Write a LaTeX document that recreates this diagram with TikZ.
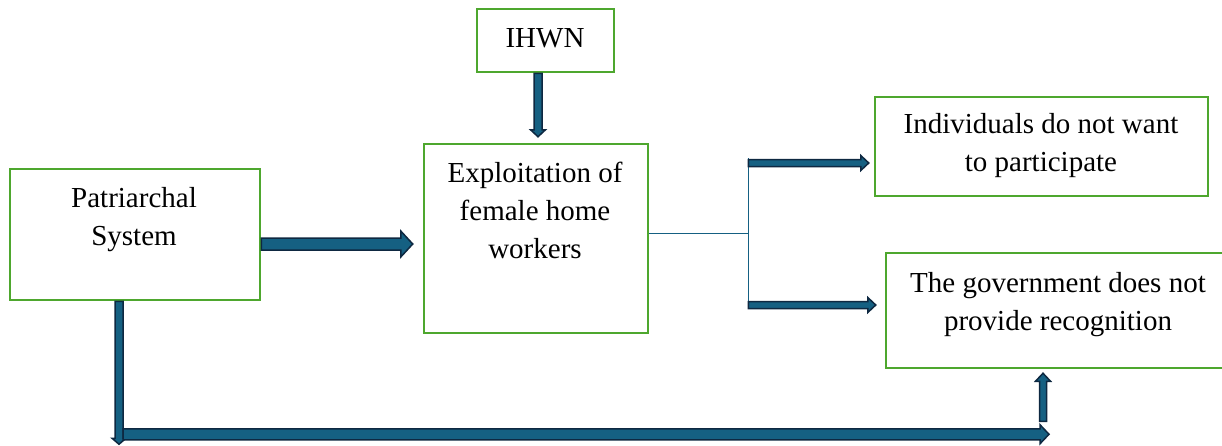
\documentclass[tikz,border=0pt]{standalone}
\usepackage{fontspec}
\setmainfont{Liberation Serif}
\usetikzlibrary{calc}
\definecolor{boxgreen}{HTML}{4EA72E}
\definecolor{arrowfill}{HTML}{156082}
\definecolor{arrowline}{HTML}{0E2841}

% block arrow: start, tip, shaft half width, head half width, head length
\newcommand{\blockarrow}[5]{%
  \coordinate (hb) at ($(#2)!#5!(#1)$);
  \filldraw[barrow] ($(#1)!#3!90:(#2)$) -- ($(hb)!#3!90:(#2)$) -- ($(hb)!#4!90:(#2)$) -- (#2)
    -- ($(hb)!#4!-90:(#2)$) -- ($(hb)!#3!-90:(#2)$) -- ($(#1)!#3!-90:(#2)$) -- cycle;
}

\begin{document}
\begin{tikzpicture}[x=1pt,y=-1pt,
    box/.style={draw=boxgreen, line width=2.5pt, inner sep=0pt},
    txt/.style={font=\fontsize{29}{38}\selectfont, align=center, inner sep=0pt, anchor=base},
    barrow/.style={fill=arrowfill, draw=arrowline, line width=1.5pt, line join=miter}]
    \useasboundingbox (0,0) rectangle (1222,445);

    % boxes
    \node[box, minimum width=137, minimum height=63] (ihwnBox) at (545.5,40.5) {};
    \node[box, minimum width=224, minimum height=189] (expBox) at (536,238.5) {};
    \node[box, minimum width=250, minimum height=131] (patBox) at (135,234.5) {};
    \node[box, minimum width=333, minimum height=99] (indBox) at (1041.5,146.5) {};
    \node[box, minimum width=344, minimum height=115] (govBox) at (1058,310.5) {};

    % texts (placed at the baseline of their last line)
    \node[txt] (ihwn) at (545,47) {IHWN};
    \node[txt] (exp) at (535,258) {Exploitation of\\female home\\workers};
    \node[txt] (pat) at (134,245) {Patriarchal\\System};
    \node[txt] (ind) at (1041,171) {Individuals do not want\\to participate};
    \node[txt] (gov) at (1058,330) {The government does not\\provide recognition};

    % patriarchal system -> exploitation
    \coordinate (pe) at ([yshift=-9.5pt]patBox.east);
    \coordinate (ew) at ([xshift=-10pt,yshift=-5.5pt]expBox.west);
    \blockarrow{pe}{ew}{6pt}{13pt}{12pt}

    % IHWN -> exploitation
    \coordinate (is) at ([xshift=-7.5pt]ihwnBox.south);
    \coordinate (en) at ([xshift=2pt,yshift=6pt]expBox.north);
    \blockarrow{is}{en}{4pt}{7.5pt}{7pt}

    % branch to the two outcomes
    \coordinate (ee) at ([yshift=5.5pt]expBox.east);
    \coordinate (sp) at ([xshift=99pt]ee);
    \coordinate (st) at ([yshift=70pt]sp);
    \coordinate (sb) at ([yshift=-72pt]sp);
    \draw[arrowfill, line width=1pt] (ee) -- (sp);
    \draw[arrowfill, line width=1pt] ([yshift=5pt]st) -- (sb);
    \coordinate (it) at ($(indBox.west |- st)+(-5,0)$);
    \coordinate (gt) at ($(govBox.west |- sb)+(-9,0)$);
    \blockarrow{st}{it}{3.5pt}{7.5pt}{8pt}
    \blockarrow{sb}{gt}{3.5pt}{7.5pt}{8pt}

    % patriarchal system -> government (bottom route)
    \coordinate (ps) at ([xshift=-16pt]patBox.south);
    \coordinate (pb) at ($(ps)+(0,143)$);
    \coordinate (hs) at ($(ps)+(4,133)$);
    \coordinate (gs) at ([xshift=-15pt]govBox.south);
    \coordinate (ht) at ($(hs -| gs)+(6,0)$);
    \coordinate (us) at ($(gs)+(0,52)$);
    \coordinate (ut) at ($(gs)+(0,4)$);
    \blockarrow{ps}{pb}{4pt}{7pt}{6pt}
    \blockarrow{hs}{ht}{5.5pt}{9.5pt}{9pt}
    \blockarrow{us}{ut}{3.5pt}{7.5pt}{8pt}
\end{tikzpicture}
\end{document}
